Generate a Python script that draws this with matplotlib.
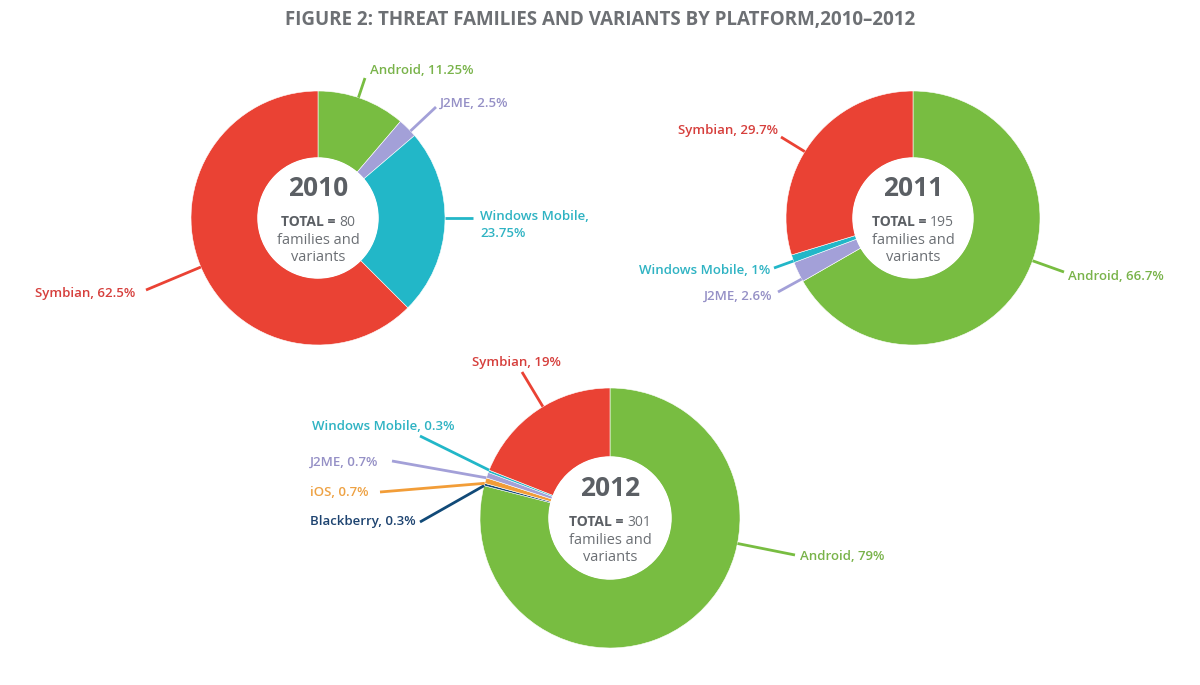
import matplotlib.pyplot as plt
import numpy as np

plt.rcParams['font.family'] = ['Open Sans', 'DejaVu Sans']

W, H = 1200, 685

# data
years = ['2010', '2011', '2012']
totals = [80, 195, 301]

platforms_2010 = ['Android', 'J2ME', 'Windows Mobile', 'Symbian']
shares_2010 = [11.25, 2.5, 23.75, 62.5]

platforms_2011 = ['Android', 'J2ME', 'Windows Mobile', 'Symbian']
shares_2011 = [66.7, 2.6, 1.0, 29.7]

platforms_2012 = ['Android', 'Blackberry', 'iOS', 'J2ME', 'Windows Mobile', 'Symbian']
shares_2012 = [79, 0.3, 0.7, 0.7, 0.3, 19]

# styles
slice_colors = {
    'Android': '#78bd41',
    'Symbian': '#ea4234',
    'Windows Mobile': '#22b7c8',
    'J2ME': '#a3a0d8',
    'iOS': '#f29d38',
    'Blackberry': '#114a78',
}
text_colors = {
    'Android': '#79b34a',
    'Symbian': '#d63f3c',
    'Windows Mobile': '#2fb3c3',
    'J2ME': '#9590c6',
    'iOS': '#eea244',
    'Blackberry': '#1d4370',
}
grey = '#5b5f64'

# layout in pixel coords (y down): centre, outer radius, inner radius
donuts = [
    dict(data=(platforms_2010, shares_2010), center=(318, 218), r=127, r_in=60),
    dict(data=(platforms_2011, shares_2011), center=(913, 218), r=127, r_in=60),
    dict(data=(platforms_2012, shares_2012), center=(610, 518), r=130, r_in=61),
]

# label placement: text x, text y, ha, leader end x, leader end y
label_pos = [
    {'Android': (370, 70, 'left', 365, 78),
     'J2ME': (440, 103, 'left', 436, 107),
     'Windows Mobile': (480, 225, 'left', 473, 218),
     'Symbian': (135, 293, 'right', 146, 290)},
    {'Symbian': (778, 130, 'right', 781, 137),
     'Windows Mobile': (770, 270, 'right', 774, 268),
     'J2ME': (772, 296, 'right', 778, 292),
     'Android': (1068, 276, 'left', 1064, 272)},
    {'Symbian': (516, 362, 'center', 522, 372),
     'Windows Mobile': (312, 426, 'left', 420, 436),
     'J2ME': (310, 462, 'left', 392, 461),
     'iOS': (310, 492, 'left', 380, 492),
     'Blackberry': (310, 522, 'left', 420, 522),
     'Android': (800, 557, 'left', 795, 555)},
]


def rim_angle(w, cx, cy, lx, ly):
    # point the leader at the label, but keep it inside the wedge
    phi = np.degrees(np.arctan2(ly - cy, lx - cx))
    t1, t2 = w.theta1, w.theta2
    phi = t1 + (phi - t1) % 360
    if phi > t2:
        phi = t2 if (phi - t2) < (t1 + 360 - phi) else t1
    return np.deg2rad(phi)


fig = plt.figure(figsize=(W / 100, H / 100), dpi=100)
ax = fig.add_axes([0, 0, 1, 1])
renderer = fig.canvas.get_renderer()

for i, d in enumerate(donuts):
    names, vals = d['data']
    cx, cy = d['center']
    r, r_in = d['r'], d['r_in']
    # y axis is inverted, so counterclock=True draws clockwise on screen
    wedges, _ = ax.pie(vals, colors=[slice_colors[n] for n in names],
                       center=(cx, cy), radius=r, startangle=-90, counterclock=True,
                       wedgeprops=dict(width=r - r_in, edgecolor='white', linewidth=0.4))
    ax.add_patch(plt.Circle((cx, cy), r_in, facecolor='white', edgecolor='white', zorder=3))

    for w, n, v in zip(wedges, names, vals):
        tx, ty, ha, lx, ly = label_pos[i][n]
        a = rim_angle(w, cx, cy, lx, ly)
        ex, ey = cx + r * np.cos(a), cy + r * np.sin(a)
        ax.plot([ex, lx], [ey, ly], color=slice_colors[n], lw=2, solid_capstyle='butt', zorder=2)
        txt = f'{n}, {v:g}%'
        if i == 0 and n == 'Windows Mobile':
            txt = f'{n},\n{v:g}%'
        ax.text(tx, ty, txt, ha=ha, va='center', fontsize=9.5, fontweight='semibold',
                color=text_colors[n], linespacing=1.4)

    # centre text
    ax.text(cx, cy - 30, years[i], ha='center', va='center', fontsize=19,
            fontweight='bold', color=grey, zorder=4)
    t_lab = ax.text(cx, cy + 4, 'TOTAL = ', ha='left', va='center',
                    fontsize=10, color=grey, zorder=4, fontweight='bold')
    t_num = ax.text(cx, cy + 4, str(totals[i]), ha='left', va='center',
                    fontsize=10, color='#6b6f74', zorder=4)
    w_lab = t_lab.get_window_extent(renderer).width
    w_num = t_num.get_window_extent(renderer).width
    x0 = cx - (w_lab + w_num) / 2
    t_lab.set_x(x0)
    t_num.set_x(x0 + w_lab)
    ax.text(cx, cy + 31, 'families and\nvariants', ha='center', va='center',
            fontsize=10.5, color='#6b6f74', zorder=4, linespacing=1.15)

ax.text(W / 2, 20, 'FIGURE 2: THREAT FAMILIES AND VARIANTS BY PLATFORM,2010\u20132012',
        ha='center', va='center', fontsize=13.5, fontweight='bold', color='#6d7074')

ax.set_xlim(0, W)
ax.set_ylim(H, 0)
ax.set_aspect('equal')
ax.axis('off')

fig.savefig('out.png', dpi=100, facecolor='white')
